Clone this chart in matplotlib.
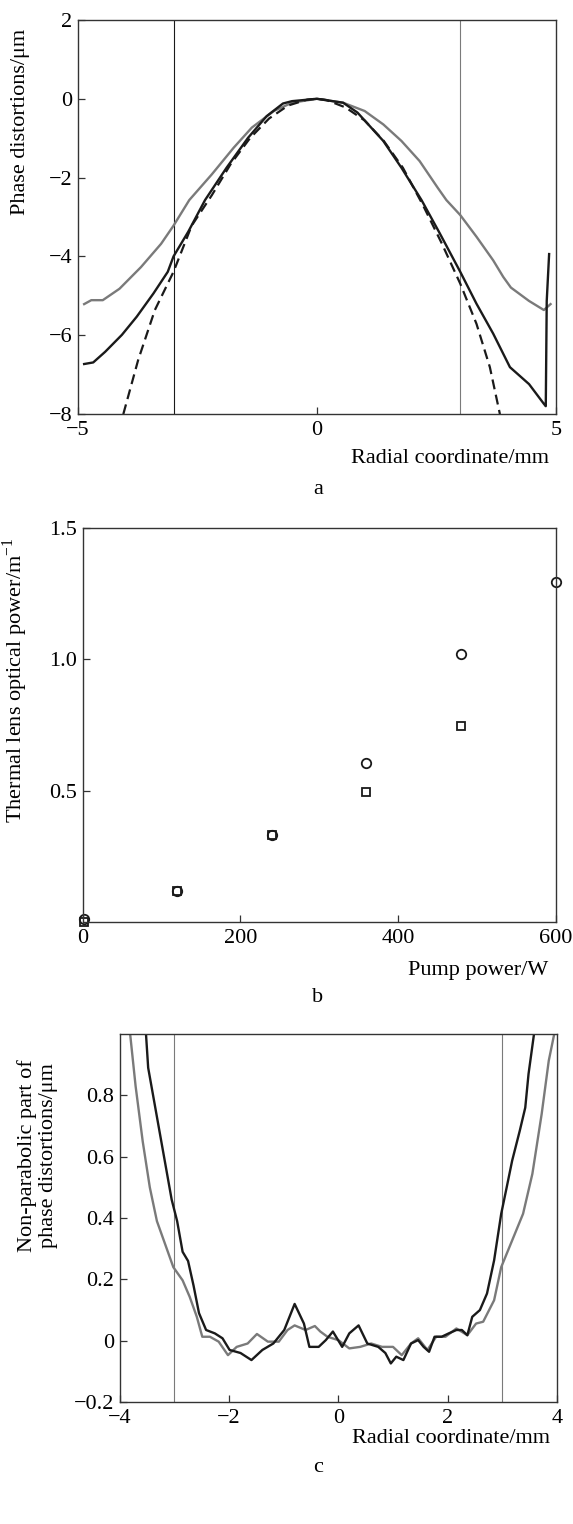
import matplotlib
matplotlib.use("Agg")
import matplotlib.pyplot as plt

plt.rcParams['font.family'] = ['Liberation Serif', 'DejaVu Serif']
plt.rcParams['mathtext.fontset'] = 'custom'
plt.rcParams['mathtext.rm'] = 'Liberation Serif'
plt.rcParams['font.size'] = 16

# panel a: phase distortions vs radial coordinate
a_gray_x = [-4.87, -4.72, -4.48, -4.13, -3.68, -3.26, -3.0, -2.67, -2.2, -1.74, -1.36, -0.9, -0.52, 0.0,
            0.55, 1.0, 1.39, 1.77, 2.15, 2.53, 2.71, 3.0, 3.34, 3.69, 3.9, 4.06, 4.44, 4.75, 4.89]
a_gray_y = [-5.21, -5.11, -5.11, -4.82, -4.27, -3.68, -3.22, -2.57, -1.92, -1.24, -0.73, -0.31, -0.10, 0.0,
            -0.10, -0.31, -0.65, -1.07, -1.58, -2.26, -2.57, -2.95, -3.5, -4.1, -4.52, -4.79, -5.13, -5.36, -5.21]
a_black_x = [-4.87, -4.68, -4.43, -4.08, -3.77, -3.42, -3.12, -3.0, -2.69, -2.34, -1.89, -1.44, -1.05, -0.71,
             -0.52, 0.0, 0.55, 0.85, 1.39, 1.77, 2.19, 2.57, 3.0, 3.34, 3.69, 4.04, 4.44, 4.75, 4.79, 4.81, 4.86]
a_black_y = [-6.73, -6.69, -6.42, -5.99, -5.53, -4.94, -4.39, -4.0, -3.37, -2.57, -1.75, -0.99, -0.44, -0.12,
             -0.06, 0.0, -0.10, -0.35, -1.07, -1.75, -2.57, -3.41, -4.39, -5.2, -5.96, -6.81, -7.24, -7.74, -7.8, -5.13, -3.94]
a_fit_x = [-4.05, -3.74, -3.39, -3.0, -2.62, -2.2, -1.8, -1.4, -1.0, -0.6, -0.2, 0.0,
           0.2, 0.6, 1.0, 1.4, 1.8, 2.22, 2.61, 3.0, 3.34, 3.62, 3.83]
a_fit_y = [-8.0, -6.63, -5.36, -4.39, -3.22, -2.45, -1.65, -1.0, -0.5, -0.17, -0.02, 0.0,
           -0.03, -0.22, -0.55, -1.07, -1.75, -2.7, -3.66, -4.69, -5.71, -6.81, -8.0]

# panel b: thermal lens optical power vs pump power
b_circ_x = [2, 120, 240, 360, 480, 600]
b_circ_y = [0.01, 0.12, 0.33, 0.605, 1.02, 1.295]
b_sq_x = [2, 120, 240, 360, 480]
b_sq_y = [0.0, 0.12, 0.33, 0.495, 0.745]

# panel c: non-parabolic part
c_black_x = [-3.52, -3.48, -3.42, -3.32, -3.22, -3.12, -3.05, -2.95, -2.85, -2.75, -2.65, -2.55, -2.42, -2.26,
             -2.12, -1.99, -1.79, -1.59, -1.39, -1.19, -0.99, -0.8, -0.63, -0.53, -0.36, -0.23, -0.1, 0.07,
             0.2, 0.37, 0.53, 0.73, 0.86, 0.96, 1.06, 1.19, 1.33, 1.46, 1.56, 1.66, 1.76, 1.89, 2.02, 2.16,
             2.26, 2.36, 2.45, 2.59, 2.72, 2.85, 2.98, 3.08, 3.18, 3.32, 3.42, 3.48, 3.58]
c_black_y = [1.0, 0.89, 0.83, 0.73, 0.63, 0.53, 0.46, 0.39, 0.29, 0.26, 0.18, 0.09, 0.035, 0.024,
             0.008, -0.03, -0.04, -0.063, -0.03, -0.009, 0.035, 0.12, 0.056, -0.02, -0.02, 0.002, 0.03, -0.02,
             0.024, 0.05, -0.009, -0.02, -0.04, -0.074, -0.052, -0.063, -0.009, 0.002, -0.02, -0.036, 0.013, 0.013, 0.024, 0.035,
             0.035, 0.018, 0.078, 0.1, 0.154, 0.262, 0.414, 0.5, 0.587, 0.685, 0.76, 0.87, 1.0]
c_gray_x = [-3.81, -3.71, -3.58, -3.45, -3.32, -3.18, -3.02, -2.85, -2.72, -2.59, -2.49, -2.35, -2.19, -2.02,
            -1.86, -1.66, -1.49, -1.29, -1.09, -0.93, -0.8, -0.6, -0.43, -0.33, -0.2, 0.0, 0.2, 0.4, 0.6,
            0.8, 1.0, 1.16, 1.33, 1.46, 1.63, 1.79, 1.96, 2.16, 2.36, 2.52, 2.65, 2.85, 2.98, 3.18, 3.38,
            3.55, 3.72, 3.85, 3.95]
c_gray_y = [1.0, 0.83, 0.65, 0.5, 0.39, 0.32, 0.24, 0.197, 0.143, 0.078, 0.013, 0.013, -0.003, -0.047,
            -0.02, -0.009, 0.022, -0.003, -0.003, 0.035, 0.05, 0.035, 0.048, 0.03, 0.013, 0.002, -0.025, -0.02, -0.009,
            -0.02, -0.02, -0.047, -0.009, 0.008, -0.03, 0.013, 0.013, 0.04, 0.018, 0.056, 0.062, 0.132, 0.24, 0.327, 0.414,
            0.544, 0.739, 0.913, 1.0]

BLACK = '#1a1a1a'
GRAY = '#7a7a7a'

fig = plt.figure(figsize=(5.73, 15.24), dpi=100)
ax_a = fig.add_axes([0.136, 0.7283, 0.834, 0.2586])
ax_b = fig.add_axes([0.144, 0.395, 0.826, 0.2585])
ax_c = fig.add_axes([0.209, 0.080, 0.763, 0.2415])

for ax in (ax_a, ax_b, ax_c):
    ax.tick_params(direction='in', length=5, width=0.9, color='#333333')
    ax.tick_params(axis='x', pad=5)
    ax.tick_params(axis='y', pad=4)
    for s in ax.spines.values():
        s.set_linewidth(1.0)
        s.set_color('#333333')

# a
ax_a.axvline(-3, color=BLACK, lw=0.8)
ax_a.axvline(3, color=GRAY, lw=0.8)
ax_a.plot(a_gray_x, a_gray_y, color=GRAY, lw=1.7)
ax_a.plot(a_fit_x, a_fit_y, color=BLACK, lw=1.6, ls=(0, (4.5, 2.5)))
ax_a.plot(a_black_x, a_black_y, color=BLACK, lw=1.7)
ax_a.set_xlim(-5, 5)
ax_a.set_ylim(-8, 2)
ax_a.set_xticks([-5, 0, 5])
ax_a.set_yticks([-8, -6, -4, -2, 0, 2])
ax_a.set_ylabel('Phase distortions/μm')
ax_a.yaxis.set_label_coords(-0.10, 0.74)
ax_a.text(0.985, -0.114, 'Radial coordinate/mm', transform=ax_a.transAxes, ha='right', va='center')
fig.text(0.555, 1 - 490 / 1524, 'a', ha='center', va='center')

# b
ax_b.plot(b_sq_x, b_sq_y, ls='none', marker='s', ms=5.5, mfc='white', mec=BLACK, mew=1.3, clip_on=False)
ax_b.plot(b_circ_x, b_circ_y, ls='none', marker='o', ms=6.8, mfc='none', mec=BLACK, mew=1.3, clip_on=False)
ax_b.set_xlim(0, 600)
ax_b.set_ylim(0, 1.5)
ax_b.set_xticks([0, 200, 400, 600])
ax_b.set_yticks([0.5, 1.0, 1.5])
ax_b.set_yticklabels(['0.5', '1.0', '1.5'])
ax_b.set_ylabel('Thermal lens optical power/m$^{-1}$')
ax_b.yaxis.set_label_coords(-0.111, 0.614)
ax_b.text(0.985, -0.124, 'Pump power/W', transform=ax_b.transAxes, ha='right', va='center')
fig.text(0.555, 1 - 998 / 1524, 'b', ha='center', va='center')

# c
ax_c.axvline(-3, color=GRAY, lw=0.8)
ax_c.axvline(3, color=GRAY, lw=0.8)
ax_c.plot(c_gray_x, c_gray_y, color=GRAY, lw=1.7)
ax_c.plot(c_black_x, c_black_y, color=BLACK, lw=1.7)
ax_c.set_xlim(-4, 4)
ax_c.set_ylim(-0.2, 1.0)
ax_c.set_xticks([-4, -2, 0, 2, 4])
ax_c.set_yticks([-0.2, 0, 0.2, 0.4, 0.6, 0.8])
ax_c.set_yticklabels(['−0.2', '0', '0.2', '0.4', '0.6', '0.8'])
ax_c.set_ylabel('Non-parabolic part of\nphase distortions/μm', linespacing=1.1)
ax_c.yaxis.set_label_coords(-0.142, 0.67)
ax_c.text(0.985, -0.098, 'Radial coordinate/mm', transform=ax_c.transAxes, ha='right', va='center')
fig.text(0.555, 1 - 1468 / 1524, 'c', ha='center', va='center')

fig.savefig('out.png', dpi=100)
